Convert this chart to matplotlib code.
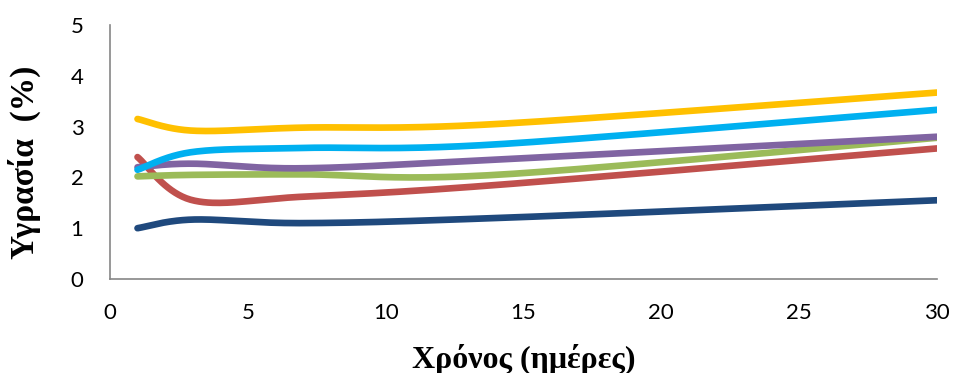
import numpy as np
import matplotlib.pyplot as plt

days = [1, 3, 7, 14, 30]

series = {
    "blue":   [1.00, 1.17, 1.10, 1.20, 1.55],
    "red":    [2.40, 1.55, 1.62, 1.85, 2.57],
    "green":  [2.02, 2.05, 2.06, 2.05, 2.78],
    "purple": [2.20, 2.27, 2.18, 2.35, 2.80],
    "cyan":   [2.15, 2.50, 2.58, 2.65, 3.33],
    "yellow": [3.15, 2.92, 2.98, 3.05, 3.67],
}
colors = {
    "blue": "#1F497D", "red": "#C0504D", "green": "#9BBB59",
    "purple": "#8064A2", "cyan": "#00B0F0", "yellow": "#FFC000",
}


def smooth(x, y, n=40):
    # bezier segments with control points at P +/- (P_next - P_prev)/6
    p = np.column_stack([x, y]).astype(float)
    p = np.vstack([p[0], p, p[-1]])
    out = []
    for i in range(1, len(p) - 2):
        p0, p1, p2, p3 = p[i - 1], p[i], p[i + 1], p[i + 2]
        c1 = p1 + (p2 - p0) / 6
        c2 = p2 - (p3 - p1) / 6
        t = np.linspace(0, 1, n)[:, None]
        seg = ((1 - t) ** 3) * p1 + 3 * ((1 - t) ** 2) * t * c1 \
            + 3 * (1 - t) * t ** 2 * c2 + t ** 3 * p2
        out.append(seg if i == 1 else seg[1:])
    out = np.vstack(out)
    return out[:, 0], out[:, 1]


fig = plt.figure(figsize=(9.56, 3.73), dpi=100)
ax = fig.add_axes([0.115, 0.252, 0.865, 0.681])

for name, vals in series.items():
    sx, sy = smooth(days, vals)
    ax.plot(sx, sy, color=colors[name], lw=4.8, solid_capstyle="round")

ax.set_xlim(0, 30)
ax.set_ylim(0, 5)
ax.set_xticks(range(0, 31, 5))
ax.set_yticks(range(0, 6))
ax.tick_params(length=0, labelsize=16, pad=17)
for lab in ax.get_xticklabels() + ax.get_yticklabels():
    lab.set_family("Lato")
ax.tick_params(axis="y", pad=19)

for s in ["top", "right"]:
    ax.spines[s].set_visible(False)
for s in ["left", "bottom"]:
    ax.spines[s].set_color("#868686")
    ax.spines[s].set_linewidth(1.2)

ax.set_xlabel("Χρόνος (ημέρες)", family="Liberation Serif", fontweight="bold",
              fontsize=23)
ax.set_ylabel("Υγρασία  (%)", family="Liberation Serif", fontweight="bold",
              fontsize=24)
ax.xaxis.set_label_coords(0.5, -0.255)
ax.yaxis.set_label_coords(-0.083, 0.46)

fig.savefig("out.png", dpi=100)
